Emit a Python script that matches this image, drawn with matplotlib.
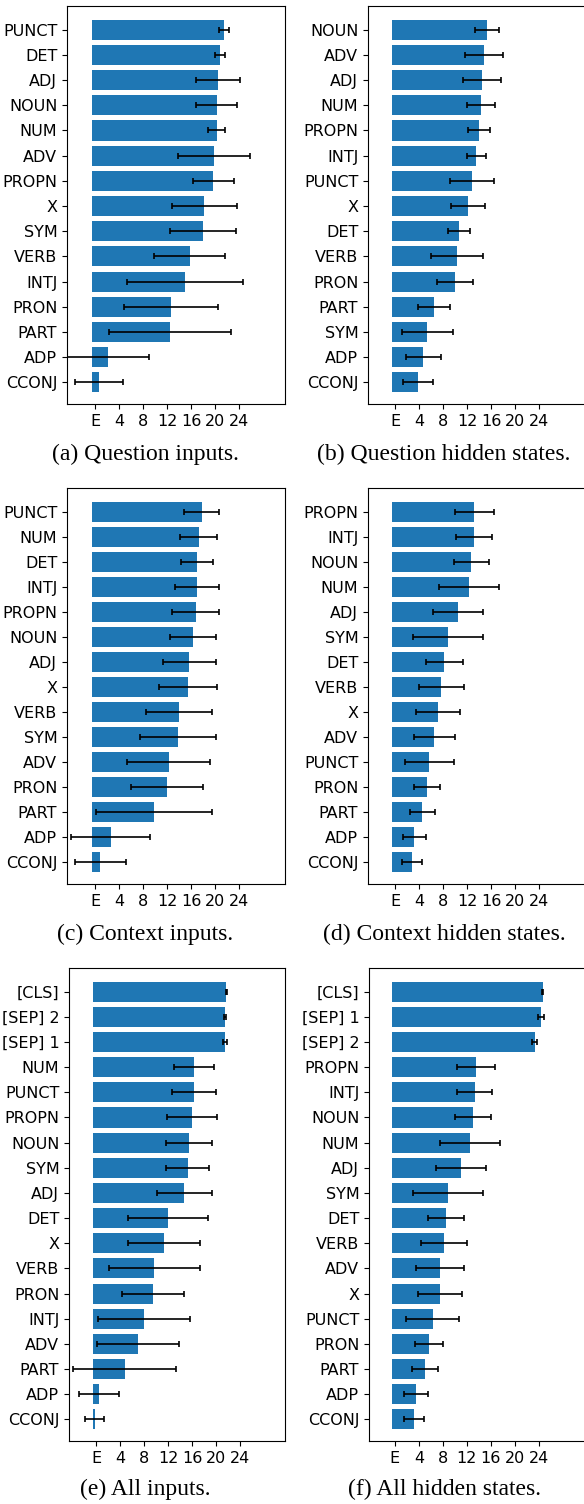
import matplotlib
matplotlib.use("Agg")
import matplotlib.pyplot as plt

# figure size in pixels (dpi 100)
W, H = 584, 1504
BASE = -0.55   # bars start a bit left of the "E" tick

xticks = [0, 4, 8, 12, 16, 20, 24]
xticklabels = ["E", "4", "8", "12", "16", "20", "24"]

# (a) Question inputs
qi_tags = ["PUNCT", "DET", "ADJ", "NOUN", "NUM", "ADV", "PROPN", "X", "SYM",
           "VERB", "INTJ", "PRON", "PART", "ADP", "CCONJ"]
qi_mean = [21.5, 20.8, 20.5, 20.3, 20.3, 19.8, 19.7, 18.2, 18.0, 15.8, 15.0, 12.7, 12.5, 2.1, 0.65]
qi_err = [0.9, 0.8, 3.6, 3.45, 1.4, 6.0, 3.4, 5.4, 5.5, 5.95, 9.65, 7.8, 10.2, 6.9, 4.0]

# (b) Question hidden states
qh_tags = ["NOUN", "ADV", "ADJ", "NUM", "PROPN", "INTJ", "PUNCT", "X", "DET",
           "VERB", "PRON", "PART", "SYM", "ADP", "CCONJ"]
qh_mean = [15.3, 14.8, 14.5, 14.3, 14.0, 13.5, 12.8, 12.1, 10.6, 10.3, 10.0, 6.5, 5.3, 4.7, 3.8]
qh_err = [1.95, 3.2, 3.2, 2.35, 1.85, 1.6, 3.6, 2.85, 1.8, 4.4, 3.0, 2.65, 4.25, 2.9, 2.5]

# (c) Context inputs
ci_tags = ["PUNCT", "NUM", "DET", "INTJ", "PROPN", "NOUN", "ADJ", "X", "VERB",
           "SYM", "ADV", "PRON", "PART", "ADP", "CCONJ"]
ci_mean = [17.8, 17.3, 17.0, 17.0, 16.8, 16.3, 15.7, 15.5, 14.0, 13.8, 12.3, 12.0, 9.8, 2.6, 0.9]
ci_err = [2.95, 3.1, 2.65, 3.7, 3.9, 3.8, 4.4, 4.8, 5.5, 6.3, 6.9, 5.95, 9.7, 6.6, 4.2]

# (d) Context hidden states
ch_tags = ["PROPN", "INTJ", "NOUN", "NUM", "ADJ", "SYM", "DET", "VERB", "X",
           "ADV", "PUNCT", "PRON", "PART", "ADP", "CCONJ"]
ch_mean = [13.2, 13.2, 12.7, 12.3, 10.5, 8.8, 8.2, 7.7, 7.2, 6.5, 5.7, 5.3, 4.5, 3.2, 2.8]
ch_err = [3.25, 3.0, 2.95, 5.05, 4.2, 5.9, 3.05, 3.8, 3.67, 3.45, 4.1, 2.2, 2.05, 1.9, 1.6]

# (e) All inputs
ai_tags = ["[CLS]", "[SEP] 2", "[SEP] 1", "NUM", "PUNCT", "PROPN", "NOUN", "SYM",
           "ADJ", "DET", "X", "VERB", "PRON", "INTJ", "ADV", "PART", "ADP", "CCONJ"]
ai_mean = [21.7, 21.5, 21.55, 16.3, 16.3, 16.0, 15.5, 15.3, 14.7, 12.0, 11.3, 9.7, 9.5,
           8.0, 7.0, 4.8, 0.5, -0.2]
ai_err = [0.1, 0.1, 0.35, 3.3, 3.65, 4.1, 3.8, 3.6, 4.6, 6.7, 6.0, 7.55, 5.1, 7.7, 6.85,
          8.6, 3.35, 1.6]

# (f) All hidden states
ah_tags = ["[CLS]", "[SEP] 1", "[SEP] 2", "PROPN", "INTJ", "NOUN", "NUM", "ADJ", "SYM",
           "DET", "VERB", "ADV", "X", "PUNCT", "PRON", "PART", "ADP", "CCONJ"]
ah_mean = [24.6, 24.3, 23.3, 13.5, 13.3, 13.0, 12.5, 11.0, 8.8, 8.5, 8.2, 7.5, 7.5,
           6.3, 5.7, 5.0, 3.5, 3.2]
ah_err = [0.1, 0.5, 0.4, 3.2, 2.95, 3.0, 5.0, 4.2, 5.85, 3.05, 3.9, 4.05, 3.7, 4.4,
          2.4, 2.15, 2.0, 1.6]

fig = plt.figure(figsize=(W / 100, H / 100), dpi=100)


def px_rect(x0, y0, x1, y1):
    return [x0 / W, 1 - y1 / H, (x1 - x0) / W, (y1 - y0) / H]


def panel(rect, tags, mean, err, xlim, caption, cap_x, cap_y):
    ax = fig.add_axes(px_rect(*rect))
    ypos = list(range(len(tags)))
    ax.barh(ypos, [m - BASE for m in mean], left=BASE, height=0.8, color="#1f77b4",
            xerr=err, error_kw=dict(ecolor="black", capsize=2, elinewidth=1.2,
                                    capthick=1.2))
    ax.set_yticks(ypos)
    ax.set_yticklabels(tags, fontsize=11.5)
    ax.set_xticks(xticks)
    ax.set_xticklabels(xticklabels, fontsize=11.5)
    ax.set_xlim(*xlim)
    ax.set_ylim(len(tags) - 1 + 0.86, -0.94)
    fig.text(cap_x / W, 1 - cap_y / H, caption, ha="center", va="center",
             family="Liberation Serif", fontsize=17)
    return ax


panel((67, 6, 285, 404), qi_tags, qi_mean, qi_err, (-4.67, 31.67),
      "(a) Question inputs.", 145, 454)
panel((368, 6, 586, 404), qh_tags, qh_mean, qh_err, (-4.55, 31.8),
      "(b) Question hidden states.", 444, 454)
panel((67, 488, 285, 884), ci_tags, ci_mean, ci_err, (-4.67, 31.67),
      "(c) Context inputs.", 145, 934)
panel((368, 488, 586, 884), ch_tags, ch_mean, ch_err, (-4.55, 31.8),
      "(d) Context hidden states.", 444, 934)
panel((69, 968, 285, 1441), ai_tags, ai_mean, ai_err, (-4.5, 31.5),
      "(e) All inputs.", 145, 1489)
panel((369, 968, 587, 1441), ah_tags, ah_mean, ah_err, (-4.3, 32.0),
      "(f) All hidden states.", 444, 1489)

fig.savefig("out.png", dpi=100)
